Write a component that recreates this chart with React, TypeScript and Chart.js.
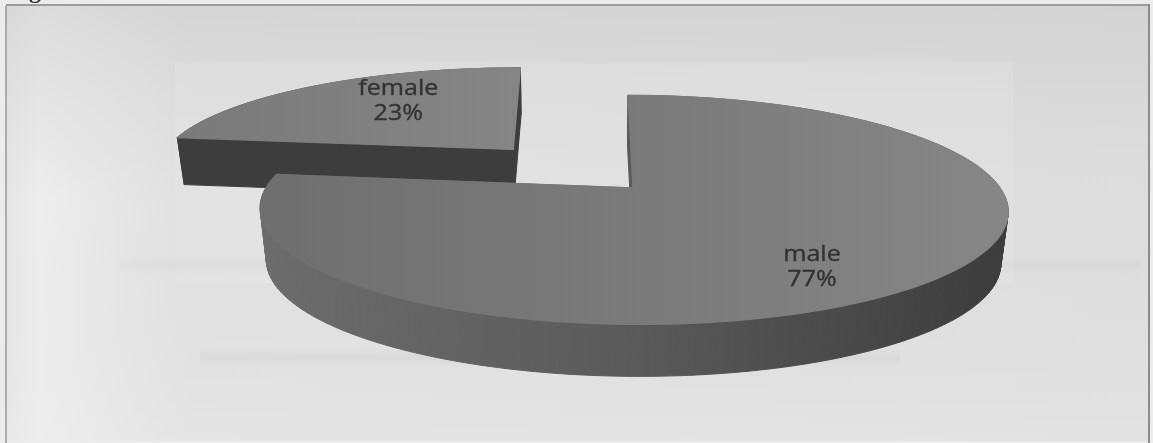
import React, { useEffect, useRef } from "react";
import { Chart, registerables } from "chart.js";

Chart.register(...registerables);

// Slices, clockwise from twelve o'clock
const categories = ["male", "female"];
const shares = [77, 23];
const explode = [0, 0.5];
const labelOffsets = [[179, 79], [-115, -49]];

// Greys of the top faces and the walls, left to right
const topGreys = [["#6f6f6f", "#868686"], ["#7a7a7a", "#858585"]];
const wallGreys = [["#6c6c6c", "#5a5a5a", "#3c3c3c"], ["#3d3d3d", "#3d3d3d", "#3d3d3d"]];

// Camera used to tilt the flat pie; each slice has its own stretch, sideways shift and wall height
const tilt = { sx: [1.963, 1.99], sy: 0.59, k: 0.191, shift: [31, 73], wallDrop: [52, 47], wallScale: 0.982 };

type Pt = [number, number];

function project(el: any, index: number, u: number, v: number, lower: boolean): Pt {
  const r = el.outerRadius;
  const w = 1 + tilt.k * v;
  const shift = tilt.shift[index];
  const vx = el.x - shift;
  let X = vx + (r * tilt.sx[index] * u + shift) / w;
  let Y = el.y - (r * tilt.sy * v) / w;
  if (lower) {
    X = vx + (X - vx) * tilt.wallScale;
    Y += tilt.wallDrop[index];
  }
  return [X, Y];
}

function rimPoints(el: any, index: number, du: number, dv: number, lower: boolean): Pt[] {
  const steps = 160;
  const pts: Pt[] = [];
  for (let i = 0; i <= steps; i++) {
    const a = el.startAngle + ((el.endAngle - el.startAngle) * i) / steps;
    pts.push(project(el, index, du + Math.cos(a), dv - Math.sin(a), lower));
  }
  return pts;
}

function tracePolygon(ctx: CanvasRenderingContext2D, pts: Pt[]) {
  ctx.beginPath();
  pts.forEach((p, i) => (i ? ctx.lineTo(p[0], p[1]) : ctx.moveTo(p[0], p[1])));
  ctx.closePath();
}

function ramp(ctx: CanvasRenderingContext2D, pts: Pt[], stops: string[]) {
  const xs = pts.map((p) => p[0]);
  const g = ctx.createLinearGradient(Math.min(...xs), 0, Math.max(...xs), 0);
  stops.forEach((c, i) => g.addColorStop(i / (stops.length - 1), c));
  return g;
}

// A soft-edged horizontal band of show-through print
function band(ctx: CanvasRenderingContext2D, x: number, y: number, w: number, h: number, alpha: number) {
  const g = ctx.createLinearGradient(0, y, 0, y + h);
  g.addColorStop(0, "rgba(165,165,165,0)");
  g.addColorStop(0.5, `rgba(165,165,165,${alpha})`);
  g.addColorStop(1, "rgba(165,165,165,0)");
  ctx.fillStyle = g;
  ctx.fillRect(x, y, w, h);
}

const paperPlugin = {
  id: "paper",
  beforeDraw(chart: any) {
    const { ctx, width, height } = chart;
    ctx.save();
    ctx.fillStyle = "#ececec";
    ctx.fillRect(0, 0, width, height);

    // Panel shading: pale at the left edge, duller along the top
    const across = ctx.createLinearGradient(6, 0, width, 0);
    across.addColorStop(0, "#e9e9e9");
    across.addColorStop(0.03, "#f1f1f1");
    across.addColorStop(0.16, "#e2e2e2");
    across.addColorStop(1, "#dedede");
    ctx.fillStyle = across;
    ctx.fillRect(6, 6, width - 10, height - 8);
    const down = ctx.createLinearGradient(0, 6, 0, height);
    down.addColorStop(0, "rgba(205,205,205,0.6)");
    down.addColorStop(0.45, "rgba(215,215,215,0.15)");
    down.addColorStop(1, "rgba(232,232,232,0.45)");
    ctx.fillStyle = down;
    ctx.fillRect(6, 6, width - 10, height - 8);

    // Lighter scanned patch behind the pie
    ctx.fillStyle = "rgba(240,240,240,0.16)";
    ctx.fillRect(175, 62, 838, 222);

    // Print showing through from the reverse side
    band(ctx, 120, 256, 1020, 18, 0.1);
    band(ctx, 200, 348, 700, 20, 0.12);

    // Frame
    ctx.fillStyle = "#9c9c9c";
    ctx.fillRect(6, 4, width - 9, 2);
    ctx.fillStyle = "#ababab";
    ctx.fillRect(5, 6, 2, height - 6);
    ctx.fillStyle = "#8c8c8c";
    ctx.fillRect(width - 5, 4, 2, height - 4);

    // Descender of the caption line above the panel
    ctx.fillStyle = "#333333";
    ctx.font = "bold 24px 'Liberation Serif'";
    ctx.textAlign = "center";
    ctx.textBaseline = "alphabetic";
    ctx.fillText("g", 35, -2);
    ctx.restore();
  },
};

const tiltedPiePlugin = {
  id: "tiltedPie",
  // The library has laid the arcs out from the data; they are drawn here in perspective
  beforeDatasetDraw(chart: any, args: any) {
    const { ctx } = chart;
    const arcs = args.meta.data;
    const order = arcs.map((_: any, i: number) => i).sort((a: number, b: number) => explode[b] - explode[a]);
    const total = shares.reduce((s, x) => s + x, 0);
    const labels: { lines: string[]; at: Pt }[] = [];

    ctx.save();
    for (const i of order) {
      const el = arcs[i];
      const mid = (el.startAngle + el.endAngle) / 2;
      const du = explode[i] * Math.cos(mid);
      const dv = -explode[i] * Math.sin(mid);
      const rimTop = rimPoints(el, i, du, dv, false);
      const rimLow = rimPoints(el, i, du, dv, true);
      const apexTop = project(el, i, du, dv, false);
      const apexLow = project(el, i, du, dv, true);

      const ringTop = [apexTop, ...rimTop, apexTop];
      const ringLow = [apexLow, ...rimLow, apexLow];
      const wallFill = ramp(ctx, rimTop, wallGreys[i]);
      ctx.fillStyle = wallFill;
      ctx.strokeStyle = wallFill;
      ctx.lineWidth = 1;
      for (let s = 0; s < ringTop.length - 1; s++) {
        tracePolygon(ctx, [ringTop[s], ringTop[s + 1], ringLow[s + 1], ringLow[s]]);
        ctx.fill();
        ctx.stroke();
      }

      const topFill = ramp(ctx, rimTop, topGreys[i]);
      ctx.fillStyle = topFill;
      ctx.strokeStyle = topFill;
      ctx.lineWidth = 1.3;
      tracePolygon(ctx, [apexTop, ...rimTop]);
      ctx.fill();
      ctx.stroke();

      labels.push({
        lines: [categories[i], `${Math.round((shares[i] / total) * 100)}%`],
        at: [apexTop[0] + labelOffsets[i][0], apexTop[1] + labelOffsets[i][1]],
      });
    }

    // Labels are set slightly wide, the way the original face sits in the panel
    ctx.fillStyle = "#323232";
    ctx.strokeStyle = "#323232";
    ctx.lineWidth = 0.35;
    ctx.font = "22px 'Open Sans'";
    ctx.textAlign = "center";
    ctx.textBaseline = "middle";
    for (const { lines, at } of labels) {
      ctx.save();
      ctx.translate(at[0], at[1]);
      ctx.scale(1.14, 1);
      lines.forEach((line, n) => {
        const y = n === 0 ? -12 : 13;
        ctx.fillText(line, 0, y);
        ctx.strokeText(line, 0, y);
      });
      ctx.restore();
    }
    ctx.restore();
    return false;
  },
};

export default function App() {
  const ref = useRef<HTMLCanvasElement>(null);
  useEffect(() => {
    const chart = new Chart(ref.current!, {
      type: "pie",
      data: { labels: categories, datasets: [{ data: shares }] },
      options: {
        responsive: false,
        animation: false,
        layout: { padding: { left: 113, bottom: 67 } },
        plugins: { legend: { display: false }, tooltip: { enabled: false } },
      },
      plugins: [paperPlugin, tiltedPiePlugin],
    });
    return () => chart.destroy();
  }, []);
  return (
    <div style={{ position: "fixed", left: 0, top: 0 }}>
      <canvas ref={ref} width={1153} height={443} style={{ display: "block" }} />
    </div>
  );
}
